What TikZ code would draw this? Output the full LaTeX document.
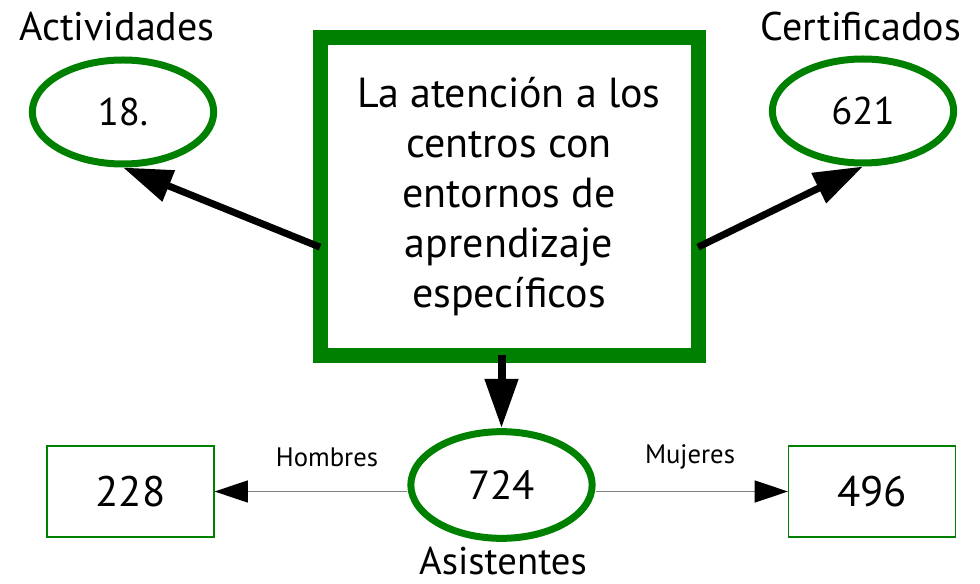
\documentclass[tikz,border=0pt]{standalone}
\usepackage{fontspec}
\setmainfont{PT Sans}
\usetikzlibrary{shapes.geometric,arrows.meta}
\definecolor{dgreen}{RGB}{0,128,0}
\definecolor{lgray}{RGB}{128,128,128}
\begin{document}
\begin{tikzpicture}[x=0.75pt,y=-0.75pt,
  oval/.style={ellipse,draw=dgreen,line width=5.25pt,minimum width=136pt,minimum height=78pt,inner sep=0pt},
  mainbox/.style={rectangle,draw=dgreen,line width=11.25pt,minimum width=283.5pt,minimum height=237.75pt,inner sep=0pt,outer sep=0pt,align=center,font=\fontsize{31.5}{37.5}\selectfont},
  numbox/.style={rectangle,draw=dgreen,line width=1.1pt,minimum width=125pt,minimum height=68pt,inner sep=0pt,font=\fontsize{32}{36}\selectfont},
  biglabel/.style={font=\fontsize{30}{34}\selectfont,inner sep=0pt},
  smalllabel/.style={font=\fontsize{20}{23}\selectfont,inner sep=0pt},
  bigarrow/.style={line width=5.25pt,-{Triangle[length=37pt,width=24pt]}},
  thinarrow/.style={draw=lgray,line width=1.1pt,-{Triangle[length=25pt,width=16.5pt,fill=black,color=black]}}
]
\useasboundingbox (0,0) rectangle (980,584);
\node[mainbox] (main) at (509,196.5) {La atención a los\\centros con\\entornos de\\aprendizaje\\específicos};
\node[oval,font=\fontsize{29}{32}\selectfont] (act) at (123,112) {18.};
\node[oval,font=\fontsize{29}{32}\selectfont] (cert) at (863,111) {621};
\node[oval,minimum height=80pt,font=\fontsize{30.5}{34}\selectfont] (asis) at (501.5,485) {724};
\node[numbox] (hom) at (130.5,491.5) {228};
\node[numbox] (muj) at (872,491.5) {496};
\node[biglabel] (lact) at (117,27) {Actividades};
\node[biglabel] (lcert) at (861,27) {Certificados};
\node[biglabel,font=\fontsize{29}{33}\selectfont] (lasis) at (503,561) {Asistentes};
\node[smalllabel] (lhom) at (327,457) {Hombres};
\node[smalllabel] (lmuj) at (690,457) {Mujeres};
\draw[bigarrow] (main.195.2) -- (act.south);
\draw[bigarrow] (main.-15.2) -- (cert.south);
\draw[bigarrow,line width=6pt] (asis.north |- main.south) -- (asis.north);
\draw[thinarrow] (asis.west |- hom.east) -- (hom.east);
\draw[thinarrow] (asis.east |- muj.west) -- (muj.west);
\end{tikzpicture}
\end{document}
